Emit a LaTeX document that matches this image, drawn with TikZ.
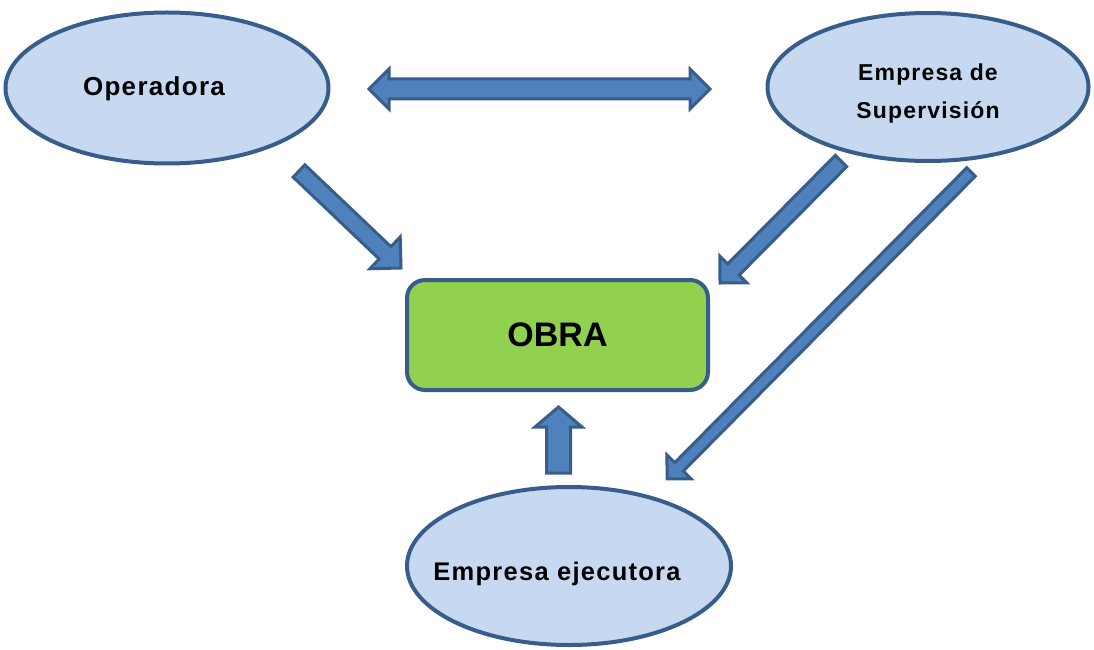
\documentclass[tikz,border=0pt]{standalone}
\usepackage{fontspec}
\setmainfont{Liberation Sans}
\usetikzlibrary{shapes.geometric,calc}

\definecolor{elfill}{HTML}{C6D9F1}
\definecolor{edgeblue}{HTML}{385D8A}
\definecolor{arfill}{HTML}{4F81BD}
\definecolor{obrafill}{HTML}{92D050}

\begin{document}
\begin{tikzpicture}[x = 1pt, y = 1pt,
	party/.style = {ellipse, draw = edgeblue, line width = 4pt, fill = elfill, inner sep = 0pt},
	lbl/.style = {font = \bfseries\addfontfeature{LetterSpace = 5}\fontsize{#1}{38}\selectfont, align = center},
	work/.style = {rectangle, rounded corners = 18pt, draw = edgeblue, line width = 4pt, fill = obrafill, minimum width = 301, minimum height = 110, font = \bfseries\fontsize{34}{40}\selectfont},
	blockar/.style = {draw = edgeblue, fill = arfill, line width = 3pt}]
	
	\useasboundingbox (0, 0) rectangle (1094, 649);
	
	%	block arrow: from, to, shaft half width, head half width, head length
	\def\blockarrow#1#2#3#4#5{%
		\draw[blockar] let \p1 = (#1), \p2 = (#2), \n1 = {atan2(\y2-\y1, \x2-\x1)}, \n2 = {veclen(\x2-\x1, \y2-\y1)} in
		[shift = {(\p1)}, rotate = \n1] (0, -#3) -- (\n2-#5, -#3) -- (\n2-#5, -#4) -- (\n2, 0) -- (\n2-#5, #4) -- (\n2-#5, #3) -- (0, #3) -- cycle;}
	\def\blockdarrow#1#2#3#4#5{%
		\draw[blockar] let \p1 = (#1), \p2 = (#2), \n1 = {atan2(\y2-\y1, \x2-\x1)}, \n2 = {veclen(\x2-\x1, \y2-\y1)} in
		[shift = {(\p1)}, rotate = \n1] (#5, -#3) -- (\n2-#5, -#3) -- (\n2-#5, -#4) -- (\n2, 0) -- (\n2-#5, #4) -- (\n2-#5, #3) -- (#5, #3) -- (#5, #4) -- (0, 0) -- (#5, -#4) -- cycle;}
	
	%	arrow ends
	\coordinate (linkL) at (369, 560);
	\coordinate (linkR) at (710, 560);
	\coordinate (opTail) at (299, 478);
	\coordinate (opTip) at (401, 381);
	\coordinate (supTail) at (841, 488);
	\coordinate (supTip) at (720, 366);
	\coordinate (longTail) at (971, 477);
	\coordinate (longTip) at (667, 170);
	\coordinate (ejTail) at (558.5, 176);
	\coordinate (ejTip) at (558.5, 242);
	
	%	arrows
	\blockdarrow{linkL}{linkR}{10}{20}{20}
	\blockarrow{opTail}{opTip}{8.5}{22}{22}
	\blockarrow{supTail}{supTip}{8}{19}{19}
	\blockarrow{longTail}{longTip}{6}{17}{17}
	\blockarrow{ejTail}{ejTip}{12}{23.5}{20}
	
	%	parties
	\node[party, minimum width = 323, minimum height = 151, label = {[lbl = 26, xshift = -13pt, yshift = -1pt]center:Operadora}] (op) at (167, 561) {};
	\node[party, minimum width = 321, minimum height = 148, label = {[lbl = 23, yshift = -7pt]center:{Empresa de\\Supervisión}}] (sup) at (928, 562) {};
	\node[party, minimum width = 324, minimum height = 158, label = {[lbl = 25.5, xshift = -12pt, yshift = -8pt]center:Empresa ejecutora}] (ej) at (569, 83) {};
	
	%	work
	\node[work] (obra) at (557.5, 314) {OBRA};
\end{tikzpicture}
\end{document}
